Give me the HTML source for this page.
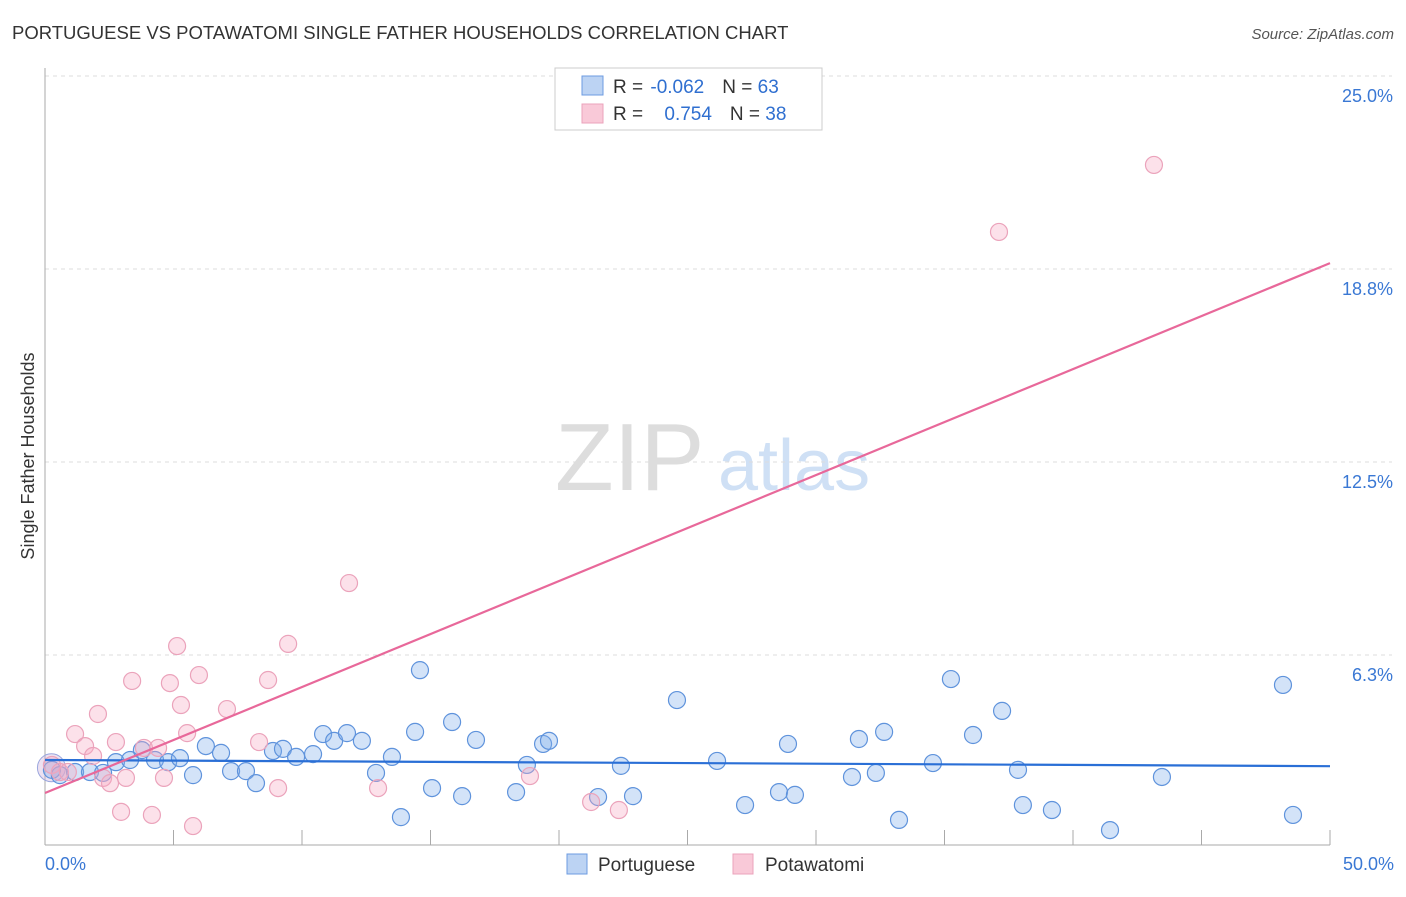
<!DOCTYPE html>
<html><head><meta charset="utf-8"><style>
body{margin:0;background:#fff;font-family:"Liberation Sans",sans-serif;}
svg text{font-family:"Liberation Sans",sans-serif;}
</style></head><body>
<svg width="1406" height="892" viewBox="0 0 1406 892" id="chart">
<text x="12" y="39" font-size="18.5" fill="#333">PORTUGUESE VS POTAWATOMI SINGLE FATHER HOUSEHOLDS CORRELATION CHART</text>
<text x="1394" y="39" font-size="15" fill="#555" text-anchor="end" font-style="italic">Source: ZipAtlas.com</text>
<text x="34" y="456" font-size="18" fill="#333" text-anchor="middle" transform="rotate(-90 34 456)">Single Father Households</text>
<text x="555" y="490" font-size="96" fill="#ddd" font-family="Liberation Serif">ZIP</text>
<text x="718" y="490" font-size="72" fill="#cfe0f5">atlas</text>
<g id="grid"></g>
<g id="marks"></g>
<g>
<rect x="555" y="68" width="267" height="62" fill="#fff" stroke="#ccc"/>
<rect x="582" y="76" width="21" height="19" fill="#bcd3f3" stroke="#6d9be0"/>
<rect x="582" y="104" width="21" height="19" fill="#f9c9d8" stroke="#eba3bb"/>
<text x="613" y="93" font-size="19" fill="#333">R = <tspan dx="2" fill="#2f6fd0">-0.062</tspan><tspan dx="18" fill="#333">N = </tspan><tspan fill="#2f6fd0">63</tspan></text>
<text x="613" y="120" font-size="19" fill="#333">R = <tspan dx="16" fill="#2f6fd0">0.754</tspan><tspan dx="18" fill="#333">N = </tspan><tspan fill="#2f6fd0">38</tspan></text>
</g>
<g>
<rect x="567" y="854" width="20" height="20" fill="#bcd3f3" stroke="#6d9be0"/>
<text x="598" y="871" font-size="19" fill="#333">Portuguese</text>
<rect x="733" y="854" width="20" height="20" fill="#f9c9d8" stroke="#eba3bb"/>
<text x="765" y="871" font-size="19" fill="#333">Potawatomi</text>
</g>
</svg>
<script>
const xTicks=[0,5,10,15,20,25,30,35,40,45,50];
const yTicks=[6.25,12.5,18.75,25];
const yTickLabels=["6.3%","12.5%","18.8%","25.0%"];
const blueX=[0.27,0.58,1.17,1.75,2.26,2.76,3.31,3.77,4.28,4.79,5.25,5.76,6.26,6.85,7.24,7.82,8.21,8.87,9.26,9.77,10.43,10.82,11.25,11.75,12.33,12.88,13.5,13.85,14.4,14.59,15.06,15.84,16.23,16.77,18.33,18.75,19.38,19.61,21.52,22.41,22.88,24.59,26.15,27.24,28.91,28.56,29.18,31.4,31.67,32.33,32.65,33.23,34.55,35.25,36.11,37.24,37.86,38.05,39.18,41.44,43.46,48.17,48.56];
const blueY=[2.53,2.36,2.46,2.46,2.43,2.78,2.85,3.17,2.85,2.78,2.91,2.36,3.3,3.08,2.49,2.49,2.1,3.14,3.21,2.95,3.04,3.69,3.47,3.72,3.47,2.43,2.95,1.0,3.76,5.76,1.94,4.08,1.68,3.5,1.81,2.69,3.37,3.47,1.65,2.66,1.68,4.79,2.82,1.39,3.37,1.81,1.72,2.3,3.53,2.43,3.76,0.91,2.75,5.47,3.66,4.44,2.53,1.39,1.23,0.58,2.3,5.28,1.07];
const pinkX=[0.27,0.58,0.89,1.17,1.56,1.87,2.06,2.26,2.53,2.76,2.96,3.15,3.39,3.85,4.16,4.4,4.63,4.86,5.14,5.29,5.53,5.76,5.99,7.08,8.33,8.68,9.07,9.46,11.83,12.96,18.87,21.25,22.33,37.12,43.15];
const pinkY=[2.69,2.46,2.46,3.69,3.3,2.98,4.34,2.27,2.1,3.43,1.17,2.27,5.41,3.24,1.07,3.24,2.27,5.34,6.54,4.63,3.72,0.71,5.6,4.5,3.43,5.44,1.94,6.61,8.58,1.94,2.33,1.49,1.23,19.95,22.12];
const blueTrend=[2.85,2.65];
const pinkTrend=[1.78,18.94];
const X=v=>45+v*25.7, Y=v=>848-v*30.88;
const NS="http://www.w3.org/2000/svg";
const grid=document.getElementById('grid'), marks=document.getElementById('marks');
function mk(tag,attrs,parent){const e=document.createElementNS(NS,tag);for(const k in attrs)e.setAttribute(k,attrs[k]);parent.appendChild(e);return e;}
yTicks.forEach((t,i)=>{
  const l=mk('line',{x1:45,x2:1392,y1:Y(t),y2:Y(t),stroke:'#ddd','stroke-dasharray':'4 4'},grid);
  
  
  const tx=mk('text',{x:1393,y:Y(t)+26,'font-size':18,fill:'#3a78d4','text-anchor':'end'},grid);
  tx.textContent=yTickLabels[i];
  
  
});
const ax=mk('line',{x1:45,x2:1330,y1:845,y2:845,stroke:'#aaa'},grid);


const ay=mk('line',{x1:45,x2:45,y1:68,y2:845,stroke:'#aaa'},grid);


xTicks.forEach(t=>{
  if(t===0)return;
  const l=mk('line',{x1:X(t),x2:X(t),y1:830,y2:845,stroke:'#aaa'},grid);
  
  
});
[[0,"0.0%","start",45],[50,"50.0%","end",1394]].forEach(a=>{
  const tx=mk('text',{x:a[3],y:870,'font-size':18,fill:'#3a78d4','text-anchor':a[2]},grid);
  tx.textContent=a[1];
  
  
});
const bigB=mk('circle',{cx:X(0.25),cy:Y(2.6),r:14,fill:'rgba(200,170,215,0.35)',stroke:'#9aa6dd'},marks);


blueX.forEach((x,i)=>{
  const c=mk('circle',{cx:X(x),cy:Y(blueY[i]),r:8.5,fill:'rgba(130,175,235,0.35)',stroke:'#5f93dc','stroke-width':1.2},marks);
  
  
});
pinkX.forEach((x,i)=>{
  const c=mk('circle',{cx:X(x),cy:Y(pinkY[i]),r:8.5,fill:'rgba(245,170,195,0.35)',stroke:'#eba3bb','stroke-width':1.2},marks);
  
  
});
const bl=mk('line',{x1:X(0),x2:X(50),y1:Y(blueTrend[0]),y2:Y(blueTrend[1]),stroke:'#2a6fd6','stroke-width':2.2},marks);


const pl=mk('line',{x1:X(0),x2:X(50),y1:Y(pinkTrend[0]),y2:Y(pinkTrend[1]),stroke:'#e8689a','stroke-width':2.2},marks);


</script>
</body></html>
